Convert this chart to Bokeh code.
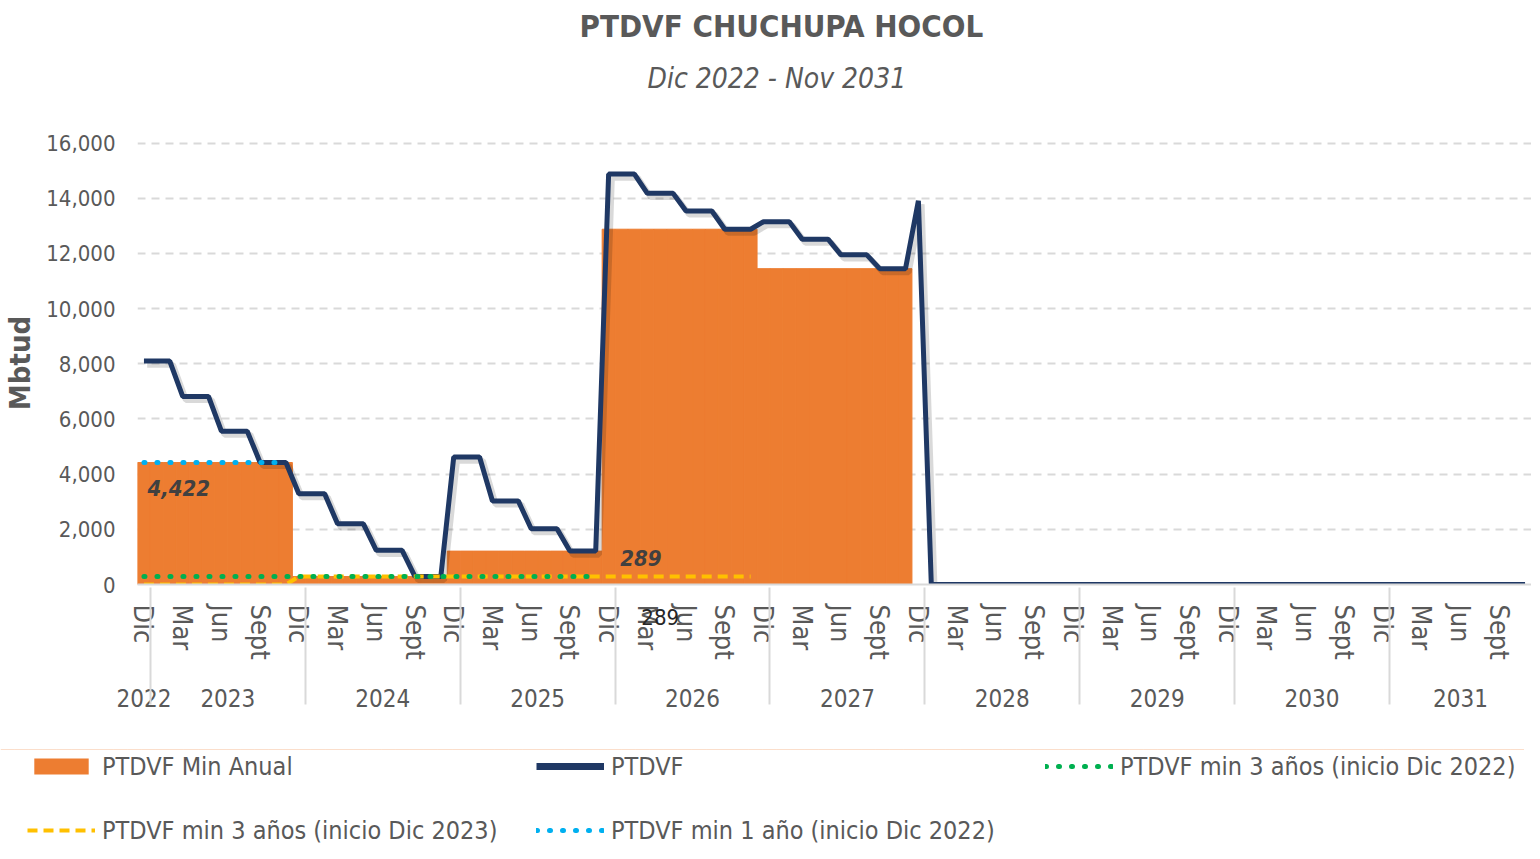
import math
from bokeh.plotting import figure
from bokeh.models import (FactorRange, Range1d, Legend, LegendItem, Label, Title,
                          NumeralTickFormatter, FixedTicker, ColumnDataSource)
from bokeh.transform import dodge
from bokeh.embed import file_html
from bokeh.resources import INLINE

FONT = "DejaVu Sans Condensed"
TXT = "#595959"
NAN = float("nan")
ORANGE, NAVY, GREEN, YELLOW, BLUE = "#ED7D31", "#1F3864", "#00B050", "#FFC000", "#00B0F0"

# ---------------- data ----------------
YEARS = ["2022", "2023", "2024", "2025", "2026", "2027", "2028", "2029", "2030", "2031"]
# month labels (only Mar, Jun, Sept, Dic are printed on the axis)
MONTH_LABELS = [" ", "  ", "Mar", "   ", "    ", "Jun", "     ", "      ", "Sept",
                "       ", "        ", "Dic"]

# PTDVF (Mbtud), monthly from Dic 2022 to Nov 2031
ptdvf_2022 = [8100]
ptdvf_2023 = [8100, 8100, 6820, 6820, 6820, 5560, 5560, 5560, 4422, 4422, 4422, 3290]
ptdvf_2024 = [3290, 3290, 2200, 2200, 2200, 1240, 1240, 1240, 289, 289, 289, 4620]
ptdvf_2025 = [4620, 4620, 3030, 3030, 3030, 2020, 2020, 2020, 1210, 1210, 1210, 14880]
ptdvf_2026 = [14880, 14880, 14180, 14180, 14180, 13540, 13540, 13540, 12880, 12880, 12880, 13150]
ptdvf_2027 = [13150, 13150, 12520, 12520, 12520, 11950, 11950, 11950, 11450, 11450, 11450, 13910]
ptdvf_2028 = [0, 0, 0, 0, 0, 0, 0, 0, 0, 0, 0, 0]
ptdvf_2029 = [0, 0, 0, 0, 0, 0, 0, 0, 0, 0, 0, 0]
ptdvf_2030 = [0, 0, 0, 0, 0, 0, 0, 0, 0, 0, 0, 0]
ptdvf_2031 = [0, 0, 0, 0, 0, 0, 0, 0, 0, 0, 0]

# PTDVF Min Anual (per gas year Dic-Nov)
min_anual_years = [4422, 289, 1210, 12880, 11450, 0, 0, 0, 0]
# PTDVF min 3 años (inicio Dic 2022): 36 months
min3_dic2022 = [289] * 36
# PTDVF min 3 años (inicio Dic 2023): 12 months at 0, then 36 months
min3_dic2023 = [0] * 12 + [289] * 36
# PTDVF min 1 año (inicio Dic 2022): 12 months
min1_dic2022 = [4422] * 12

# ---------------- build table ----------------
factors = [("2022", MONTH_LABELS[11])]
for y in YEARS[1:]:
    n = 11 if y == "2031" else 12
    for m in range(n):
        factors.append((y, MONTH_LABELS[m]))
N = len(factors)

ptdvf = (ptdvf_2022 + ptdvf_2023 + ptdvf_2024 + ptdvf_2025 + ptdvf_2026 +
         ptdvf_2027 + ptdvf_2028 + ptdvf_2029 + ptdvf_2030 + ptdvf_2031)
min_anual = []
for v in min_anual_years:
    min_anual += [v] * 12


def pad(a):
    return a + [NAN] * (N - len(a))


src = ColumnDataSource(dict(
    x=factors, ptdvf=ptdvf, min_anual=min_anual,
    g=pad(min3_dic2022), yel=pad(min3_dic2023), b=pad(min1_dic2022),
))

# ---------------- main figure ----------------
xr = FactorRange(*factors, range_padding=0, factor_padding=0,
                 subgroup_padding=0, group_padding=0)
p = figure(frame_width=1394, frame_height=443, x_range=xr, y_range=(0, 16060),
           output_backend="svg", toolbar_location=None,
           min_border_left=130, min_border_right=0, min_border_top=0,
           min_border_bottom=165, outline_line_color=None)

p.title.text = "PTDVF CHUCHUPA HOCOL"
p.title.align = "left"
p.title.offset = 442
p.title.text_font = FONT
p.title.text_font_size = "31px"
p.title.text_font_style = "bold"
p.title.text_color = TXT
p.title.standoff = 11
# spacer between the subtitle and the plot area (added first -> closest to the plot)
p.add_layout(Title(text=" ", text_font_size="10px", standoff=24), "above")
sub_title = Title(text="Dic 2022 - Nov 2031", align="left", offset=510, text_font=FONT,
                  text_font_size="28px", text_font_style="italic", text_color=TXT,
                  standoff=20)
p.add_layout(sub_title, "above")

bars = p.vbar(x="x", top="min_anual", width=1.0, source=src, fill_color=ORANGE,
              line_color=ORANGE, line_width=1)
p.line(x=dodge("x", 0.25, range=xr), y=dodge("ptdvf", -130), source=src,
       line_color="#000000", line_alpha=0.15, line_width=6)
p.line(x="x", y="ptdvf", source=src, line_color=NAVY, line_width=5)
p.line(x="x", y="yel", source=src, line_color=YELLOW, line_width=4, line_dash="10 6")
p.line(x="x", y="g", source=src, line_color=GREEN, line_width=5,
       line_dash="1 12", line_cap="round")
p.line(x="x", y="b", source=src, line_color=BLUE, line_width=5,
       line_dash="1 12", line_cap="round")

# data labels
p.add_layout(Label(x=3.2, y=min1_dic2022[0], y_offset=-25, text="4,422",
                   text_font=FONT, text_font_size="22px", text_font_style="bold italic",
                   text_color="#404040", text_align="center", text_baseline="middle"))
p.add_layout(Label(x=39.0, y=min3_dic2022[-1], y_offset=19, text="289",
                   text_font=FONT, text_font_size="22px", text_font_style="bold italic",
                   text_color="#404040", text_align="center", text_baseline="middle"))
p.add_layout(Label(x=40.5, y=0, y_offset=-32, text="289",
                   text_font=FONT, text_font_size="22px", border_line_color=None,
                   text_color="#262626", text_align="center", text_baseline="middle"),
             "below")

# axes
p.yaxis.ticker = FixedTicker(ticks=list(range(0, 16001, 2000)))
p.yaxis.formatter = NumeralTickFormatter(format="0,0")
p.yaxis.axis_line_color = None
p.yaxis.major_tick_line_color = None
p.yaxis.minor_tick_line_color = None
p.yaxis.major_label_text_font = FONT
p.yaxis.major_label_text_font_size = "22px"
p.yaxis.major_label_text_color = TXT
p.yaxis.major_label_standoff = 16
p.yaxis.axis_label = "Mbtud"
p.yaxis.axis_label_text_font = FONT
p.yaxis.axis_label_text_font_size = "29px"
p.yaxis.axis_label_text_font_style = "bold"
p.yaxis.axis_label_text_color = TXT
p.yaxis.axis_label_standoff = 6

xa = p.xaxis[0]
xa.major_label_orientation = "vertical"
xa.major_label_text_font = FONT
xa.major_label_text_font_size = "27px"
xa.major_label_text_color = TXT
xa.major_tick_line_color = None
xa.major_tick_out = 0
xa.major_tick_in = 0
xa.major_label_standoff = 20
xa.group_text_font = FONT
xa.group_text_font_size = "24px"
xa.group_text_font_style = "normal"
xa.group_text_color = TXT
xa.separator_line_color = "#D9D9D9"
xa.separator_line_width = 2
xa.axis_line_color = "#D9D9D9"
xa.axis_line_width = 2

p.xgrid.grid_line_color = None
p.ygrid.grid_line_color = "#D9D9D9"
p.ygrid.grid_line_width = 2
p.ygrid.grid_line_dash = "8 6"

# ---------------- legend strip (separate root, same series styles) ----------------
lg = figure(width=1524, height=96, x_range=xr, y_range=Range1d(-3, -2),
            output_backend="svg", toolbar_location=None, min_border=0,
            min_border_left=0, min_border_right=0, min_border_top=0,
            min_border_bottom=0, outline_line_color=None,
            background_fill_color=None, border_fill_color=None)
lg.outline_line_alpha = 0
lg.xaxis.visible = False
lg.yaxis.visible = False
for ax in lg.axis:
    ax.axis_line_color = None
    ax.major_tick_line_color = None
    ax.minor_tick_line_color = None
    ax.major_label_text_alpha = 0
lg.xaxis.separator_line_color = None
lg.grid.visible = False
lg.title.visible = False
k_bar = lg.vbar(x="x", top="min_anual", width=1.0, source=src, fill_color=ORANGE,
                line_color=None)
k_nav = lg.line(x="x", y="ptdvf", source=src, line_color=NAVY, line_width=7)
k_yel = lg.line(x="x", y="yel", source=src, line_color=YELLOW, line_width=4,
                line_dash="10 6")
k_grn = lg.line(x="x", y="g", source=src, line_color=GREEN, line_width=5,
                line_dash="1 12", line_cap="round")
k_blu = lg.line(x="x", y="b", source=src, line_color=BLUE, line_width=5,
                line_dash="1 12", line_cap="round")

legend = Legend(items=[
    LegendItem(label="PTDVF Min Anual", renderers=[k_bar]),
    LegendItem(label="PTDVF min 3 años (inicio Dic 2023)", renderers=[k_yel]),
    LegendItem(label="PTDVF", renderers=[k_nav]),
    LegendItem(label="PTDVF min 1 año (inicio Dic 2022)", renderers=[k_blu]),
    LegendItem(label="PTDVF min 3 años (inicio Dic 2022)", renderers=[k_grn]),
], orientation="vertical", nrows=2, location=(27, 0),
    glyph_width=68, glyph_height=20, label_standoff=7, label_width=400,
    label_height=30, spacing=34, padding=0, margin=0,
    label_text_font=FONT, label_text_font_size="25px", label_text_color=TXT,
    border_line_color=None, background_fill_alpha=0)
lg.add_layout(legend)

open("out.html", "w").write(file_html([p, lg], INLINE))
